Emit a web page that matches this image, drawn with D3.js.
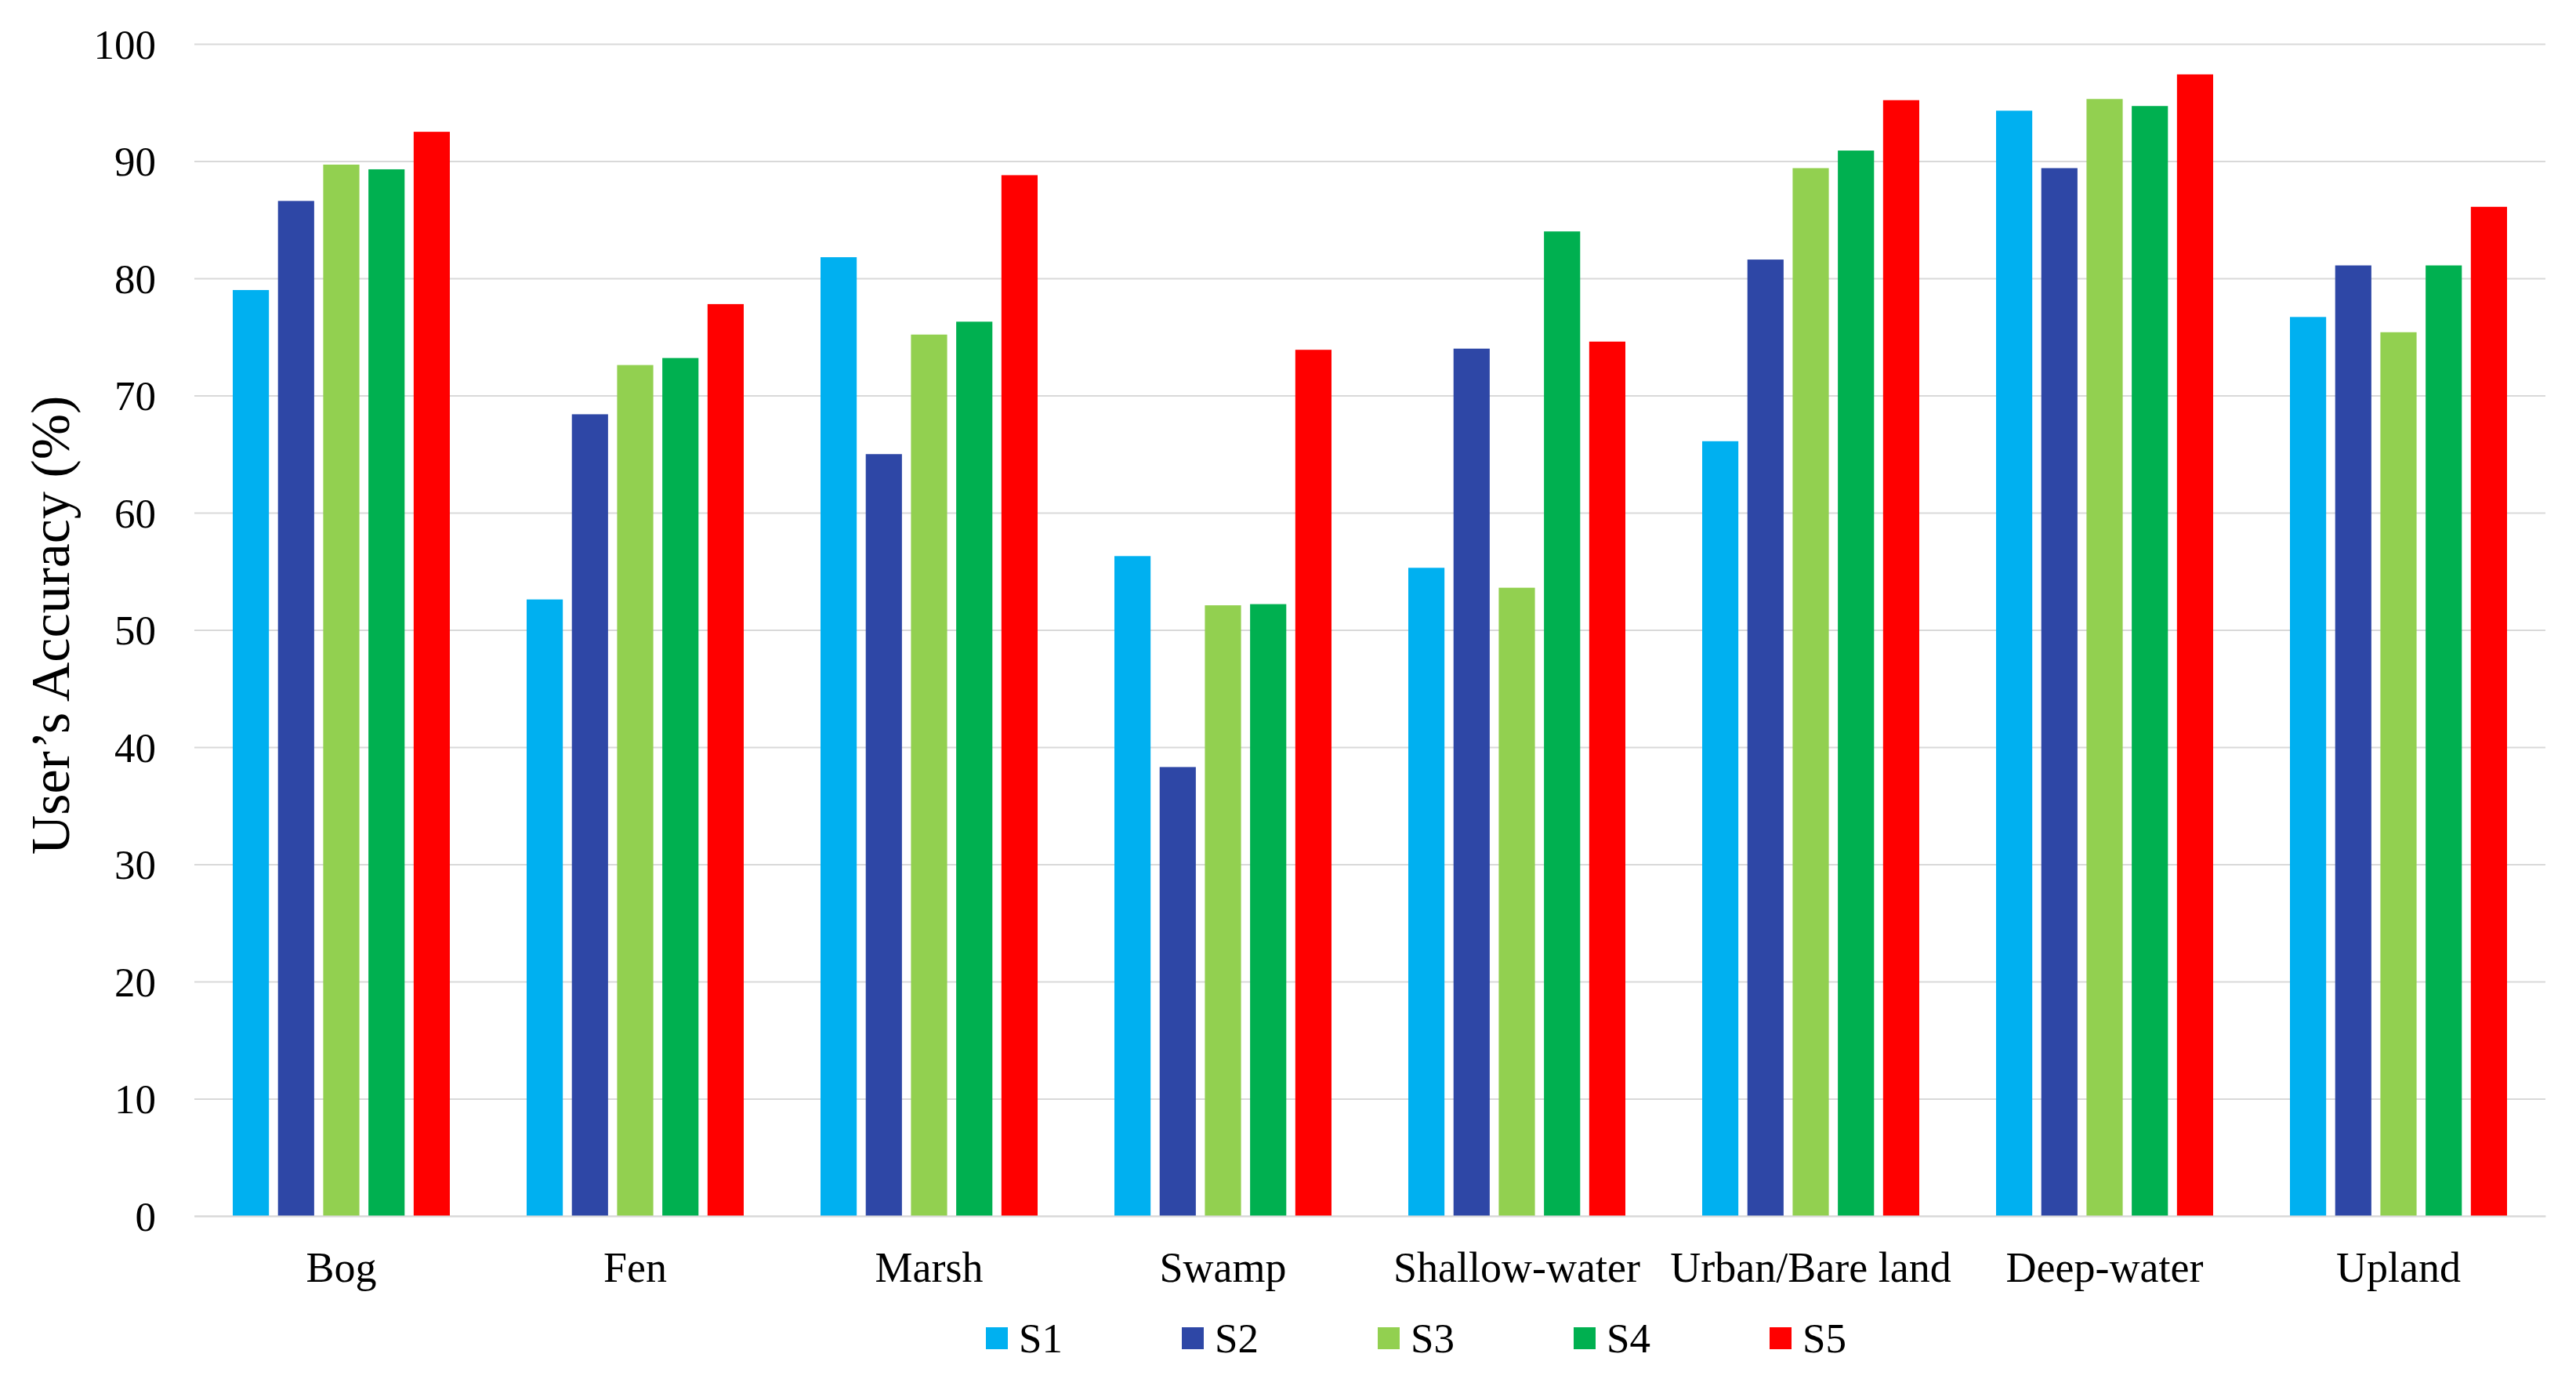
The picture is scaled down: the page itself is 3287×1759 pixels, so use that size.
<!DOCTYPE html>
<html>
<head>
<meta charset="utf-8">
<script src="https://cdn.jsdelivr.net/npm/d3@7"></script>
<style>
  html, body { margin: 0; padding: 0; background: #fff; }
  svg { display: block; }
  text { font-family: "Liberation Serif", "Times New Roman", serif; fill: #000; }
</style>
</head>
<body>
<svg id="chart" width="3287" height="1759"></svg>
<script>
const categories = ["Bog", "Fen", "Marsh", "Swamp", "Shallow-water", "Urban/Bare land", "Deep-water", "Upland"];
const seriesNames = ["S1", "S2", "S3", "S4", "S5"];
const S1 = [79.0, 52.6, 81.8, 56.3, 55.3, 66.1, 94.3, 76.7];
const S2 = [86.6, 68.4, 65.0, 38.3, 74.0, 81.6, 89.4, 81.1];
const S3 = [89.7, 72.6, 75.2, 52.1, 53.6, 89.4, 95.3, 75.4];
const S4 = [89.3, 73.2, 76.3, 52.2, 84.0, 90.9, 94.7, 81.1];
const S5 = [92.5, 77.8, 88.8, 73.9, 74.6, 95.2, 97.4, 86.1];
const yTicks = [0, 10, 20, 30, 40, 50, 60, 70, 80, 90, 100];
const colors = ["#00B0F0", "#2E47A6", "#92D050", "#00B050", "#FF0000"];

const seriesValues = [S1, S2, S3, S4, S5];

const svg = d3.select("#chart");
const plotLeft = 248, plotRight = 3248, plotTop = 56, plotBottom = 1551;

const x0 = d3.scaleBand().domain(categories).range([plotLeft, plotRight]).padding(0);
const x1 = d3.scaleBand().domain(seriesNames).range([49, 326]).paddingInner(0.2).paddingOuter(0);
const y = d3.scaleLinear().domain([0, 100]).range([plotBottom, plotTop]);

// gridlines + y tick labels
const yAxis = d3.axisLeft(y).tickValues(yTicks).tickSize(-(plotRight - plotLeft)).tickPadding(49).tickFormat(d3.format("d"));
const gAxis = svg.append("g").attr("transform", `translate(${plotLeft},0)`).call(yAxis);
gAxis.select(".domain").remove();
gAxis.selectAll(".tick line").attr("stroke", "#D9D9D9").attr("stroke-width", 2.2);
gAxis.selectAll(".tick text").attr("font-size", 53).attr("font-family", "Liberation Serif").attr("fill", "#000").attr("dy", "0.34em");

// bars
const rows = categories.map((c, i) => ({ cat: c, vals: seriesNames.map((s, j) => ({ s, v: seriesValues[j][i], j })) }));
const groups = svg.append("g").selectAll("g").data(rows).join("g")
  .attr("transform", d => `translate(${x0(d.cat)},0)`);
groups.selectAll("rect").data(d => d.vals).join("rect")
  .attr("x", d => x1(d.s))
  .attr("width", x1.bandwidth())
  .attr("y", d => y(d.v))
  .attr("height", d => y(0) - y(d.v))
  .attr("fill", d => colors[d.j]);

// x axis
const xAxis = d3.axisBottom(x0).tickSize(0).tickPadding(0);
const gx = svg.append("g").attr("transform", `translate(0,${plotBottom})`).call(xAxis);
gx.select(".domain").attr("stroke", "#D9D9D9").attr("stroke-width", 2.2);
gx.selectAll(".tick text").attr("font-size", 54).attr("font-family", "Liberation Serif").attr("fill", "#000")
  .attr("y", 84).attr("dy", null);

// y title
svg.append("text")
  .attr("transform", `translate(64,${(plotTop + plotBottom) / 2 - 6}) rotate(-90)`)
  .attr("text-anchor", "middle")
  .attr("dominant-baseline", "central")
  .attr("font-size", 70)
  .text("User\u2019s Accuracy (%)");

// legend
const legendX = d3.scalePoint().domain(seriesNames).range([1258, 2258]);
const lg = svg.append("g").selectAll("g").data(seriesNames).join("g")
  .attr("transform", d => `translate(${legendX(d)},0)`);
lg.append("rect").attr("x", 0).attr("y", 1693).attr("width", 28).attr("height", 28)
  .attr("fill", (d, i) => colors[i]);
lg.append("text").attr("x", 42).attr("y", 1725).attr("font-size", 53).text(d => d);
</script>
</body>
</html>
